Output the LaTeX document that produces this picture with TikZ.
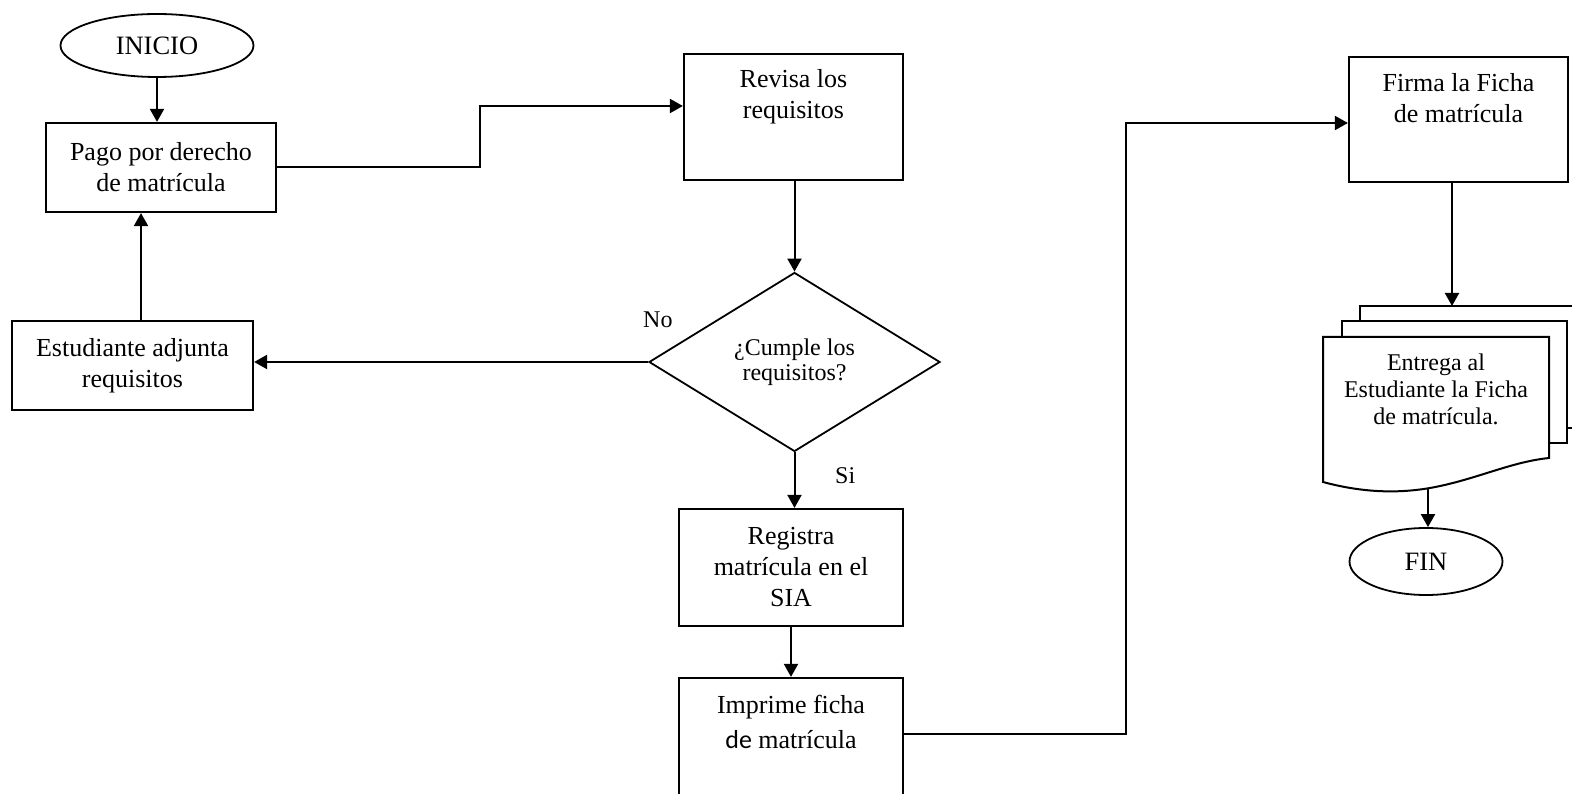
\documentclass[tikz,border=0pt]{standalone}
\usepackage{fontspec}
\setmainfont{Liberation Serif}
\newfontfamily\calibrifont{Carlito}
\usetikzlibrary{shapes.geometric,arrows.meta,calc}
\begin{document}
\begin{tikzpicture}[x=1pt,y=-1pt,
  box/.style={draw, line width=2.2pt, inner sep=0pt, align=center,
    font=\fontsize{26}{31}\selectfont},
  boxtop/.style={draw, line width=2.2pt, inner sep=0pt,
    font=\fontsize{26}{31}\selectfont},
  term/.style={draw, ellipse, line width=1.8pt, inner sep=0pt,
    font=\fontsize{26.5}{31}\selectfont},
  decision/.style={draw, diamond, line width=1.8pt, inner sep=0pt, align=center,
    font=\fontsize{24}{25}\selectfont},
  page/.style={draw, line width=2pt},
  flow/.style={line width=2pt, -{Triangle[length=13pt,width=14pt]}},
  lbl/.style={font=\fontsize{24}{28}\selectfont, inner sep=0pt, anchor=base west}]
\useasboundingbox (0,0) rectangle (1572,794);
\fill[white] (0,0) rectangle (1572,794);
\clip (0,0) rectangle (1572,794);

% start / end terminators
\node[term, minimum width=193pt, minimum height=63pt] (inicio) at (157,45.5) {INICIO};
\node[term, minimum width=153pt, minimum height=67pt] (fin) at (1426,561.5) {FIN};

% process boxes
\node[box, minimum width=230pt, minimum height=89pt] (pago) at (161,167.5)
  {Pago por derecho\\de matrícula};
\node[box, minimum width=241pt, minimum height=89pt] (estud) at (132.5,365.5)
  {Estudiante adjunta\\requisitos};
\node[boxtop] (revisa) at (793.5,117)
  {\parbox[c][126pt][t]{219pt}{\centering\rule{0pt}{34pt}Revisa los\\requisitos}};
\node[box, minimum width=224pt, minimum height=117pt] (regis) at (791,567.5)
  {Registra\\matrícula en el\\SIA};
\node[boxtop] (impr) at (791,739)
  {\parbox[c][122pt][t]{224pt}{\centering\rule{0pt}{35pt}Imprime ficha\\[4pt]{\calibrifont de} matrícula}};
\node[boxtop] (firma) at (1458.5,119.5)
  {\parbox[c][125pt][t]{219pt}{\centering\rule{0pt}{35pt}Firma la Ficha\\de matrícula}};

% decision
\node[decision, aspect=1.626, minimum width=291pt, minimum height=179pt] (cumple)
  at (794.5,362) {¿Cumple los\\requisitos?};
\node[lbl] (no) at (643,327) {No};
\node[lbl] (si) at (835,483) {Si};

% multiple documents
\coordinate (backtop) at (1452,306);
\draw[page] (1360,321) -- (1360,306) -- (1600,306) -- (1600,428) -- (1567,428);
\draw[page] (1342,337) -- (1342,321) -- (1567,321) -- (1567,443) -- (1549,443);
\draw[page, fill=white] (1323,337) -- (1549,337) -- (1549,458)
  .. controls (1510,462) and (1475,480) .. (1430,488)
  .. controls (1395,494) and (1360,492) .. (1323,482) -- cycle;
\node[font=\fontsize{24}{27}\selectfont, align=center, inner sep=0pt] (entrega)
  at (1436,389) {Entrega al\\Estudiante la Ficha\\de matrícula.};
\coordinate (docbot) at (1428,489);

% connectors
\coordinate (j1) at (480,106);
\coordinate (j2) at (1126,123);
\coordinate (e1) at (141,321);
\coordinate (iex) at ($(impr.north east)+(0,57)$);
\draw[flow] (inicio.south) -- (inicio.south |- pago.north);
\draw[flow] (pago.east) -- (pago.east -| j1) -- (j1) -- (j1 -| revisa.west);
\draw[flow] (revisa.south -| cumple.north) -- (cumple.north);
\draw[flow] (cumple.west) -- (cumple.west -| estud.east);
\draw[flow] (e1) -- (e1 |- pago.south);
\draw[flow] (cumple.south) -- (cumple.south |- regis.north);
\draw[flow] (regis.south) -- (regis.south |- impr.north);
\draw[flow] (iex) -- (iex -| j2) -- (j2) -- (j2 -| firma.west);
\draw[flow] (firma.south -| backtop) -- (backtop);
\draw[flow] (docbot) -- (docbot |- fin.north);
\end{tikzpicture}
\end{document}
